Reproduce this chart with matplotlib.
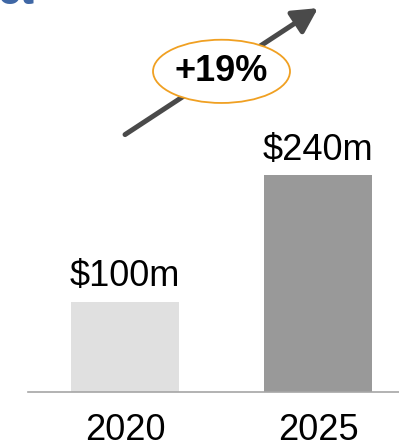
import matplotlib.pyplot as plt
from matplotlib.patches import Ellipse, FancyArrowPatch

plt.rcParams['font.family'] = ['Liberation Sans', 'DejaVu Sans']

years = ['2020', '2025']
market = [100, 240]          # $m
value_labels = ['$100m', '$240m']
cagr = '+19%'

bar_colors = ['#e0e0e0', '#999999']

W, H = 399, 447
fig = plt.figure(figsize=(W / 100, H / 100), dpi=100)
# axes from x=28px to the right edge, baseline 55px above the bottom
ax = fig.add_axes([28 / W, 55 / H, 1 - 28 / W, 1 - 55 / H])

x = list(range(len(years)))
ax.bar(x, market, width=0.56, color=bar_colors, zorder=2)
ax.set_xlim(-0.503, 1.42)
ax.set_ylim(0, 434)

for xi, v, lab in zip(x, market, value_labels):
    ax.annotate(lab, (xi, v), xytext=(0, 11), textcoords='offset points',
                ha='center', va='baseline', fontsize=26, color='black')

ax.set_xticks(x)
ax.set_xticklabels(years, fontsize=26)
ax.tick_params(axis='x', length=0, pad=15)
ax.set_yticks([])
for s in ['top', 'left', 'right']:
    ax.spines[s].set_visible(False)
ax.spines['bottom'].set_color('#a6a6a6')
ax.spines['bottom'].set_linewidth(1.2)

# growth arrow between the two bars, with the CAGR badge on it
arrow = FancyArrowPatch((0, 285), (1, 425), arrowstyle='-|>,head_length=0.75,head_width=0.4',
                        mutation_scale=20, color='#4a4a4a', lw=3.6,
                        shrinkA=0, shrinkB=0, clip_on=False, zorder=3)
ax.add_patch(arrow)
badge = Ellipse((0.5, 355), width=0.71, height=70, facecolor='white',
                edgecolor='#f0a022', lw=1.3, zorder=4, clip_on=False)
ax.add_patch(badge)
ax.text(0.5, 355, cagr, ha='center', va='center', fontsize=26,
        fontweight='bold', color='black', zorder=5)

# tail of the heading, cut off at the top edge
fig.text(-3 / W, 1 - 4 / H, 'et', ha='left', va='baseline', fontsize=30,
         fontweight='bold', color='#3f67a5')

fig.savefig('out.png', dpi=100)
